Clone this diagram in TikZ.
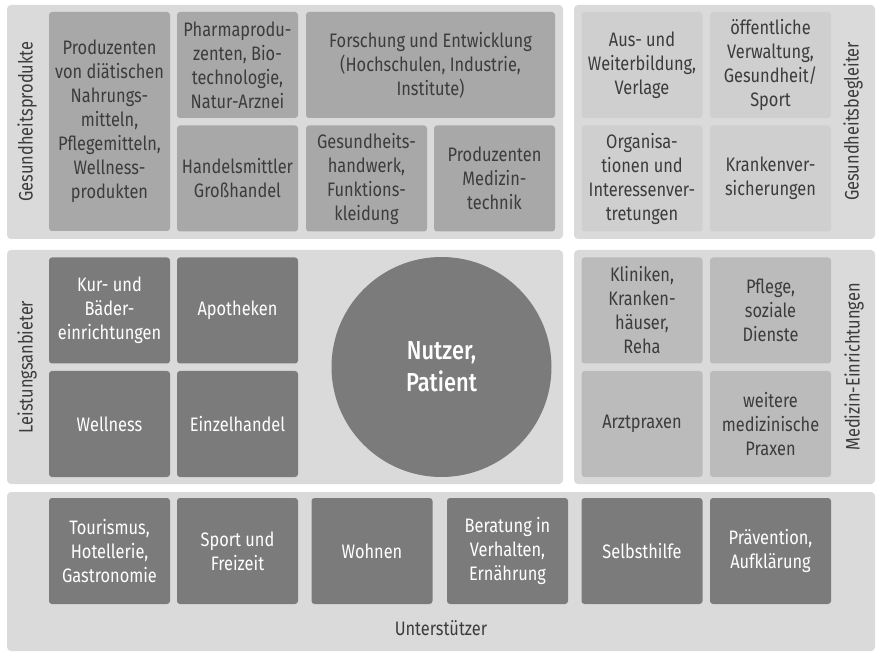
\documentclass[tikz,border=0pt]{standalone}
\usepackage{fontspec}
\setmainfont{Fira Sans}[FakeStretch=0.84]
\newfontfamily\nutzerfont{Fira Sans Medium}[FakeStretch=0.84]
\definecolor{panelgray}{HTML}{DADADA}
\definecolor{prodgray}{HTML}{A8A8A8}
\definecolor{begleitgray}{HTML}{CFCFCF}
\definecolor{medgray}{HTML}{BBBBBB}
\definecolor{anbietergray}{HTML}{7B7B7B}
\definecolor{textgray}{HTML}{3C3C3C}
\newcommand{\boxfont}{\fontsize{19.5}{24}\selectfont}
\tikzset{
  panel/.style={fill=panelgray, rounded corners=4pt},
  kasten/.style={rounded corners=3pt, inner sep=0pt, align=center,
    minimum width=121pt, minimum height=106pt, font=\boxfont},
  prodbox/.style={kasten, fill=prodgray, text=textgray},
  begleitbox/.style={kasten, fill=begleitgray, text=textgray},
  medbox/.style={kasten, fill=medgray, text=textgray},
  anbieterbox/.style={kasten, fill=anbietergray, text=white},
  seitenlabel/.style={font=\boxfont, text=textgray, inner sep=0pt}
}
\begin{document}
\begin{tikzpicture}[x=1pt,y=-1pt]
  \useasboundingbox (0,0) rectangle (876,652);
  % Hintergrundflaechen
  \fill[panel] (7,5) rectangle (563,239);
  \fill[panel] (574,5) rectangle (875,239);
  \fill[panel] (7,250) rectangle (563,484);
  \fill[panel] (574,250) rectangle (875,484);
  \fill[panel] (7,492) rectangle (875,651);

  % Gesundheitsprodukte
  \node[prodbox, minimum height=219pt] (prod) at (109.5,121.5) {Produzenten\\von diätischen\\Nahrungs-\\mitteln,\\Pflegemitteln,\\Wellness-\\produkten};
  \node[prodbox] (pharma) at (237.5,65) {Pharmaprodu-\\zenten, Bio-\\technologie,\\Natur-Arznei};
  \node[prodbox, minimum width=249pt] (forschung) at (430.5,65) {Forschung und Entwicklung\\(Hochschulen, Industrie,\\Institute)};
  \node[prodbox] (handel) at (237.5,178.5) {Handelsmittler\\Großhandel};
  \node[prodbox] (handwerk) at (366.5,178.5) {Gesundheits-\\handwerk,\\Funktions-\\kleidung};
  \node[prodbox] (medtech) at (494.5,178.5) {Produzenten\\Medizin-\\technik};
  \node[seitenlabel, rotate=90] (lprod) at (27,121.5) {Gesundheitsprodukte};

  % Gesundheitsbegleiter
  \node[begleitbox] (bildung) at (642,65) {Aus- und\\Weiterbildung,\\Verlage};
  \node[begleitbox] (verwaltung) at (770.5,65) {öffentliche\\Verwaltung,\\Gesundheit/\\Sport};
  \node[begleitbox] (organisation) at (642,178.5) {Organisa-\\tionen und\\Interessenver-\\tretungen};
  \node[begleitbox] (kasse) at (770.5,178.5) {Krankenver-\\sicherungen};
  \node[seitenlabel, rotate=90] (lbegleit) at (853,121.5) {Gesundheitsbegleiter};

  % Leistungsanbieter
  \node[anbieterbox] (kur) at (109.5,310.5) {Kur- und\\Bäder-\\einrichtungen};
  \node[anbieterbox] (apotheke) at (237.5,310.5) {Apotheken};
  \node[anbieterbox] (wellness) at (109.5,424) {Wellness};
  \node[anbieterbox] (einzel) at (237.5,424) {Einzelhandel};
  \node[seitenlabel, rotate=90] (lanbieter) at (27,367) {Leistungsanbieter};
  \node[circle, fill=anbietergray, text=white, minimum size=220pt, inner sep=0pt, align=center,
    font=\fontsize{26}{32}\nutzerfont] (nutzer) at (441.5,367) {Nutzer,\\Patient};

  % Medizin-Einrichtungen
  \node[medbox] (klinik) at (642,310.5) {Kliniken,\\Kranken-\\häuser,\\Reha};
  \node[medbox] (pflege) at (770.5,310.5) {Pflege,\\soziale\\Dienste};
  \node[medbox] (arzt) at (642,424) {Arztpraxen};
  \node[medbox] (praxen) at (770.5,424) {weitere\\medizinische\\Praxen};
  \node[seitenlabel, rotate=90] (lmedizin) at (854,367) {Medizin-Einrichtungen};

  % Unterstuetzer
  \foreach \x/\n/\t in {109.5/tourismus/{Tourismus,\\Hotellerie,\\Gastronomie},
                        237.5/sport/{Sport und\\Freizeit},
                        372/wohnen/{Wohnen},
                        507.5/beratung/{Beratung in\\Verhalten,\\Ernährung},
                        642/selbsthilfe/{Selbsthilfe},
                        770.5/praevention/{Prävention,\\Aufklärung}}
    \node[anbieterbox] (\n) at (\x,551) {\t};
  \node[seitenlabel] (lunter) at (441,628) {Unterstützer};
\end{tikzpicture}
\end{document}
